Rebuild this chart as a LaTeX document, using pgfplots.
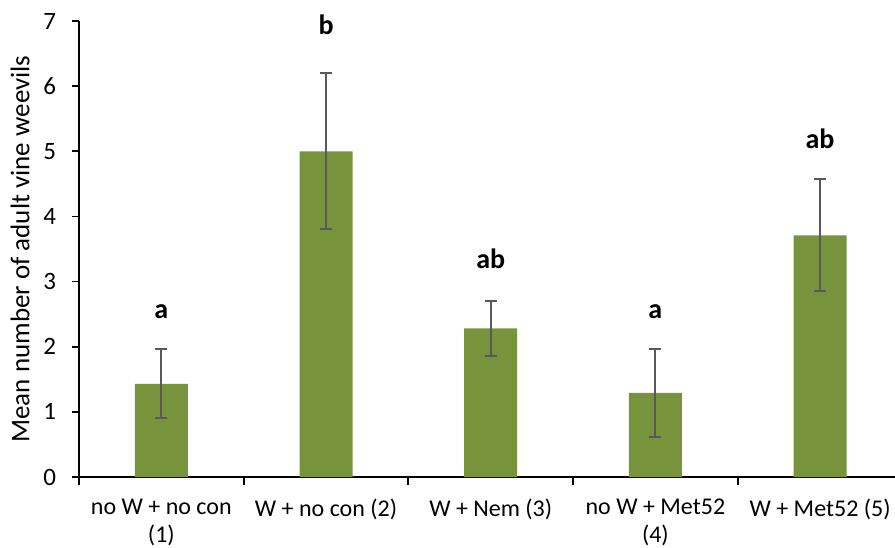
\documentclass[border=0pt]{standalone}
\usepackage{pgfplots}
\pgfplotsset{compat=1.18}
\usepackage{pgfplotstable}
\usepackage{fontspec}
\setmainfont{Carlito}
\definecolor{bargreen}{HTML}{77933C}
\definecolor{errgray}{HTML}{595959}
\pgfplotstableread{
x y err
0 1.43 0.53
1 5.00 1.20
2 2.28 0.42
3 1.29 0.67
4 3.71 0.86
}\means
\pgfplotstableread{
x y lab
0 2.44 a
1 6.79 b
2 3.20 ab
3 2.44 a
4 5.05 ab
}\letters
\begin{document}
\begin{tikzpicture}
\begin{axis}[
  scale only axis, width=408pt, height=228pt,
  xmin=-0.5, xmax=4.455, ymin=0, ymax=7,
  axis lines=left,
  axis line style={-, line width=1pt, black},
  clip=false,
  xtick={0,1,2,3,4},
  xticklabels={{no W + no con\\(1)},{W + no con (2)},{W + Nem (3)},{no W + Met52\\(4)},{W + Met52 (5)}},
  minor xtick={-0.5,0.5,1.5,2.5,3.5},
  major x tick style={draw=none},
  minor x tick style={black, line width=1pt},
  ytick={0,1,...,7},
  ytick style={black, line width=0.8pt},
  tick align=outside,
  major tick length=3.5pt,
  minor tick length=4pt,
  /pgf/number format/assume math mode=true,
  ticklabel style={font=\fontsize{12.5}{14}\selectfont},
  yticklabel style={anchor=east, xshift=-4.5pt},
  xticklabel style={align=center, yshift=-4pt, font=\fontsize{12}{14}\selectfont},
  ylabel={Mean number of adult vine weevils},
  ylabel style={font=\fontsize{13.5}{15}\selectfont, at={(rel axis cs:0,0.5)}, anchor=center, rotate=0, yshift=29.5pt},
]
\coordinate (O) at (rel axis cs:0,0);
\addplot[ybar, bar width=26.5pt, fill=bargreen, draw=none,
  error bars/.cd, y dir=both, y explicit,
  error bar style={errgray, line width=1pt},
  error mark options={rotate=90, errgray, mark size=3pt, line width=1pt}]
  table[x=x, y=y, y error=err] {\means};
\addplot[only marks, mark=none, nodes near coords, point meta=explicit symbolic,
  nodes near coords style={font=\bfseries\fontsize{14}{16}\selectfont, anchor=base, inner sep=0pt, yshift=0pt}]
  table[x=x, y=y, meta=lab] {\letters};
\end{axis}
\pgfresetboundingbox
\path (O) ++(-39.5pt,-35pt) rectangle ++(447.5pt,273.5pt);
\end{tikzpicture}
\end{document}
